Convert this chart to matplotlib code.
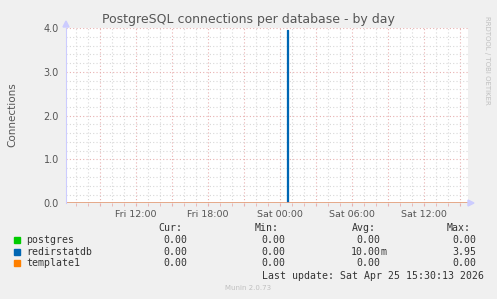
import matplotlib
matplotlib.use('Agg')
import matplotlib.pyplot as plt
import matplotlib.dates as mdates
import numpy as np

# data
times = np.array(['2026-04-24T06:10', '2026-04-25T00:35', '2026-04-25T00:40', '2026-04-25T15:42'],
                 dtype='datetime64[m]')
postgres = [0.0, 0.0, 0.0, 0.0]
redirstatdb = [0.0, 3.95, 0.0, 0.0]
template1 = [0.0, 0.0, 0.0, 0.0]

names = ['postgres', 'redirstatdb', 'template1']
colors = ['#00cc00', '#0066b3', '#ff8000']
cur = [0.0, 0.0, 0.0]
mins = [0.0, 0.0, 0.0]
avgs = [0.0, 0.01, 0.0]
maxs = [0.0, 3.95, 0.0]

tick_times = np.array(['2026-04-24T12:00', '2026-04-24T18:00', '2026-04-25T00:00',
                       '2026-04-25T06:00', '2026-04-25T12:00'], dtype='datetime64[m]')
tick_labels = ['Fri 12:00', 'Fri 18:00', 'Sat 00:00', 'Sat 06:00', 'Sat 12:00']
yticks = [0.0, 1.0, 2.0, 3.0, 4.0]

W, H = 497, 299
fig = plt.figure(figsize=(W / 100, H / 100), dpi=100)
fig.patch.set_facecolor('#f0f0f0')

def px(x, y):
    return x / W, 1 - y / H

x0, x1, ytop, ybot = 66, 468, 28, 203.3
ax = fig.add_axes([x0 / W, 1 - ybot / H, (x1 - x0) / W, (ybot - ytop) / H])
ax.set_facecolor('white')

t = mdates.date2num(times.astype('datetime64[s]').astype(object))
ax.set_xlim(t[0], t[-1])
ax.set_ylim(0, 4.0)

# grid
dot = (0, (1, 2))
ax.xaxis.set_minor_locator(mdates.HourLocator())
ax.xaxis.set_major_locator(mdates.HourLocator(byhour=range(0, 24, 3)))
ax.yaxis.set_minor_locator(plt.MultipleLocator(0.2))
ax.set_yticks(yticks)
ax.grid(which='minor', color='#d8d8d8', linestyle=dot, linewidth=0.8)
ax.grid(which='major', color='#e8b0b0', linestyle=dot, linewidth=0.8)
ax.set_axisbelow(True)

# series
ax.plot(t, postgres, drawstyle='steps-post', color=colors[0], lw=1)
ax.fill_between(t, redirstatdb, step='post', color='#6aa6dc', lw=0)
ax.plot(t, redirstatdb, drawstyle='steps-post', color=colors[1], lw=0.9)
ax.plot(t, template1, drawstyle='steps-post', color='#f0a080', lw=1.2)

# tick labels
ax.set_yticklabels(['%.1f' % v for v in yticks], fontsize=7, color='#555555')
tt = mdates.date2num(tick_times.astype('datetime64[s]').astype(object))
sec = ax.secondary_xaxis('bottom')
sec.set_xticks(tt)
sec.set_xticklabels(tick_labels, fontsize=6.8, color='#555555')
sec.tick_params(length=0, pad=5)
sec.spines['bottom'].set_visible(False)
ax.tick_params(axis='x', which='both', labelbottom=False, length=2, color='#e8b0b0')
ax.tick_params(axis='y', which='both', length=0, pad=5)
for s in ['top', 'right', 'bottom']:
    ax.spines[s].set_visible(False)
ax.spines['left'].set_color('#ccccff')

# axis arrows
fig.patches.append(plt.Polygon([px(63, 27), px(69, 27), px(66, 21)], closed=True,
                               transform=fig.transFigure, color='#ccccff'))
fig.patches.append(plt.Polygon([px(468, 200), px(468, 206), px(474, 203)], closed=True,
                               transform=fig.transFigure, color='#ccccff'))

# titles
fig.text(*px(248, 19), 'PostgreSQL connections per database - by day',
         ha='center', va='center', fontsize=9, color='#555555')
fig.text(*px(12, 115), 'Connections', rotation=90, ha='center', va='center',
         fontsize=7.5, color='#555555')
fig.text(*px(487, 60), 'RRDTOOL / TOBI OETIKER', rotation=270, ha='center', va='center',
         fontsize=5, color='#c0c0c0')

# legend
mono = 'DejaVu Sans Mono'
fs = 7.1
headers = [('Cur:', 158), ('Min:', 255), ('Avg:', 351.7), ('Max:', 446.7)]
for txt, x in headers:
    fig.text(*px(x, 227.7), txt, ha='left', va='center', family=mono, fontsize=fs, color='#333333')

def fmt(v):
    if v != 0 and abs(v) < 1:
        return '%.2f' % (v * 1000), 'm'
    return '%.2f' % v, ''

col_right = [187.7, 285, 380.7, 476.7]
rows_y = [240, 251.7, 263.3]
for i, name in enumerate(names):
    y = rows_y[i]
    fig.patches.append(plt.Rectangle(px(13.5, y + 3), 6 / W, 6 / H, transform=fig.transFigure,
                                     color=colors[i]))
    fig.text(*px(26, y), name, ha='left', va='center', family=mono, fontsize=fs, color='#333333')
    for vals, xr in zip([cur, mins, avgs, maxs], col_right):
        num, suf = fmt(vals[i])
        fig.text(*px(xr, y), num, ha='right', va='center', family=mono, fontsize=fs, color='#333333')
        if suf:
            fig.text(*px(xr, y), suf, ha='left', va='center', family=mono, fontsize=fs, color='#333333')

fig.text(*px(261.7, 275.7), 'Last update: Sat Apr 25 15:30:13 2026', ha='left', va='center',
         family=mono, fontsize=fs, color='#333333')
fig.text(*px(248, 288), 'Munin 2.0.73', ha='center', va='center', fontsize=5, color='#c0c0c0')

fig.savefig('out.png', dpi=100, facecolor=fig.get_facecolor())
